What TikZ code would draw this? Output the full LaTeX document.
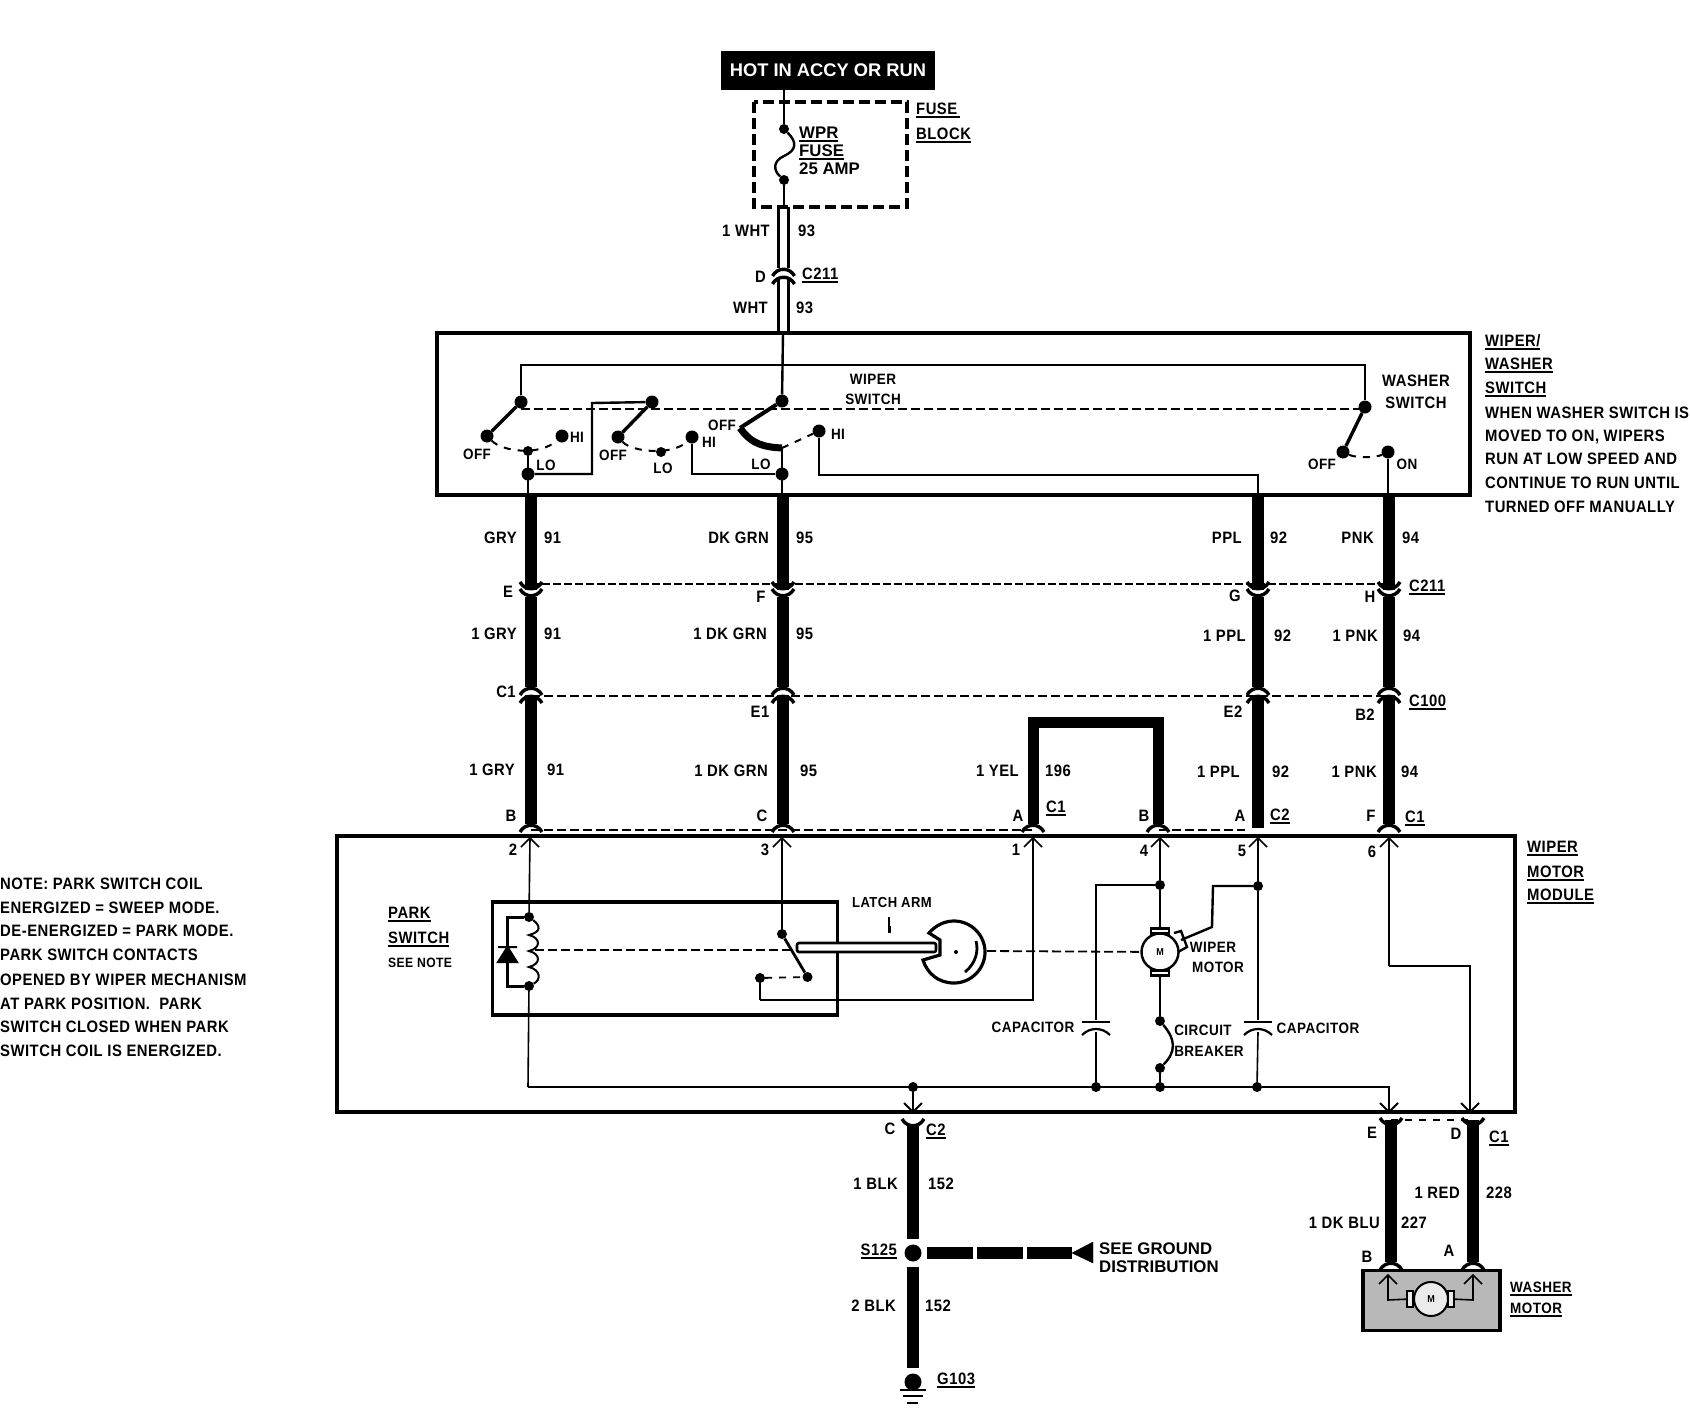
\documentclass[tikz,border=0pt]{standalone}
\usepackage{fontspec}
\setmainfont{Liberation Sans}[FakeStretch=0.9,LetterSpace=3]
\newfontfamily\plainface{Liberation Sans}
\usetikzlibrary{positioning}
\newcommand{\ulab}[1]{\setbox0=\hbox{#1}\rlap{\smash{\rule[-4pt]{\wd0}{1.7pt}}}\box0}
\tikzset{
    lab/.style={inner sep=0pt,font=\fontsize{16.5}{18}\selectfont\bfseries,text height=12pt,text depth=0pt},
    small/.style={lab,font=\fontsize{15}{18}\selectfont\bfseries},
    plainlab/.style={lab,font=\plainface\fontsize{16.8}{18}\selectfont\bfseries},
    dot/.style={circle,fill=black,inner sep=0pt,minimum size=13pt},
    tinydot/.style={circle,fill=black,inner sep=0pt,minimum size=10pt},
    heavy/.style={line width=12.5pt},
    thin wire/.style={line width=1.6pt},
    med wire/.style={line width=2.4pt},
    mech/.style={dash pattern=on 9pt off 4pt,line width=1.8pt},
    contact/.style={dash pattern=on 7pt off 7pt,line width=2pt},
    forkup/.pic={\draw[line width=3.4pt] (-11,8) .. controls (-6,-1) and (6,-1) .. (11,8);},
    forkdown/.pic={\draw[line width=3.4pt] (-11,-8) .. controls (-6,1) and (6,1) .. (11,-8);},
    pinup/.pic={\draw[line width=1.6pt] (-9,9) -- (0,0) -- (9,9);},
    pindown/.pic={\draw[line width=2pt] (-9,-9) -- (0,0) -- (9,-9);},
}
\begin{document}
\begin{tikzpicture}[x=1pt,y=-1pt]
  \useasboundingbox (0,0) rectangle (1690,1408);
  % supply and fuse block
  \node[fill=black,text=white,minimum width=214pt,minimum height=39pt,inner sep=0pt,font=\plainface\fontsize{18.3}{20}\selectfont\bfseries] (hot) at (828,70.5) {HOT IN ACCY OR RUN};
  \coordinate (hotout) at (784,90);
  \coordinate (fbA) at (754,102);
  \coordinate (fbB) at (907,207);
  \draw[line width=3.2pt,dash pattern=on 11pt off 5pt] (fbA) rectangle (fbB);
  \node[tinydot] (fuse1) at (784,129) {};
  \node[tinydot] (fuse2) at (784,180) {};
  \coordinate (fbout) at (784,207);
  \draw[thin wire] (hotout) -- (fuse1);
  \draw[med wire] (fuse1) .. controls (797,142) and (797,150) .. (784,156) .. controls (773,161) and (773,170) .. (fuse2);
  \draw[thin wire] (fuse2) -- (fbout);
  \node[plainlab,anchor=west] (wpr) at (799,132) {\ulab{WPR}};
  \node[plainlab,anchor=west] (wprf) at (799,150) {\ulab{FUSE}};
  \node[plainlab,anchor=west] (amp) at (799,168) {25 AMP};
  \node[lab,anchor=west] (fusel) at (916,108) {\ulab{FUSE\,}};
  \node[lab,anchor=west] (blockl) at (916,133) {\ulab{BLOCK}};
  % pair from fuse block to wiper switch
  \coordinate (pa0) at (778.5,207);
  \coordinate (pa1) at (778.5,268);
  \coordinate (pa2) at (778.5,278);
  \coordinate (pa3) at (778.5,333);
  \coordinate (pb0) at (788.5,207);
  \coordinate (pb1) at (788.5,268);
  \coordinate (pb2) at (788.5,278);
  \coordinate (pb3) at (788.5,333);
  \draw[line width=3.2pt] (pa0) -- (pa1) (pb0) -- (pb1) (pa2) -- (pa3) (pb2) -- (pb3);
  \pic at (783.5,268) {forkup};
  \pic at (783.5,276) {forkup};
  \node[lab,anchor=east] (n1wht) at (770,230) {1 WHT};
  \node[lab,anchor=west] (n93a) at (798,230) {93};
  \node[lab,anchor=east] (nd) at (766,276) {D};
  \node[lab,anchor=west] (c211a) at (802,273) {\ulab{C211}};
  \node[lab,anchor=east] (nwht) at (768,307) {WHT};
  \node[lab,anchor=west] (n93b) at (796,307) {93};
  % wiper/washer switch
  \node[draw,line width=3.2pt,inner sep=0pt,minimum width=1033pt,minimum height=162pt] (swbox) at (953.5,414) {};
  \node[dot] (swA) at (521,402) {};
  \node[dot] (swB) at (652,402) {};
  \node[dot] (swC) at (782,401) {};
  \node[dot] (swD) at (1365,407) {};
  \node[dot] (offA) at (487,436) {};
  \node[tinydot] (loA) at (528,451) {};
  \node[dot] (hiA) at (562,436) {};
  \node[dot] (offB) at (618,437) {};
  \node[tinydot] (loB) at (661,452) {};
  \node[dot] (hiB) at (692,437) {};
  \coordinate (offC) at (740,428);
  \coordinate (loC) at (782,448);
  \node[dot] (hiC) at (819,431) {};
  \node[dot] (offD) at (1343,452) {};
  \node[dot] (onD) at (1388,452) {};
  \node[dot] (jA) at (528,474) {};
  \node[dot] (jC) at (782,474) {};
  \coordinate (swtopA) at (521,365);
  \coordinate (swtopC) at (783,365);
  \coordinate (swtopD) at (1365,365);
  \coordinate (swinC) at (783,333);
  \coordinate (mechA) at (521,409);
  \coordinate (mechD) at (1365,409);
  \coordinate (rA) at (592,474);
  \coordinate (rB) at (592,403);
  \coordinate (rC) at (692,474);
  \coordinate (rD) at (819,475);
  \coordinate (rE) at (1258,475);
  \coordinate (rF) at (1258,495);
  \coordinate (jAout) at (528,495);
  \coordinate (jCout) at (782,495);
  \coordinate (onout) at (1388,495);
  \draw[mech,line width=2.4pt] (mechA) -- (mechD);
  \draw[med wire] (swA) -- (swtopA) -- (swtopD) -- (swD);
  \draw[med wire] (swinC) -- (swC);
  \draw[line width=3.4pt] (swA) -- (offA);
  \draw[line width=3.4pt] (swB) -- (offB);
  \draw[line width=4pt] (swC) -- (offC);
  \draw[line width=3.4pt] (swD) -- (offD);
  \draw[line width=7pt] (offC) .. controls (752,445) and (765,447) .. (loC);
  \draw[contact] (offA) .. controls (503,452) and (540,456) .. (hiA);
  \draw[contact] (offB) .. controls (632,452) and (672,456) .. (hiB);
  \draw[contact] (loC) -- (hiC);
  \draw[contact] (offD) .. controls (1356,458) and (1375,458) .. (onD);
  \draw[line width=2.2pt] (loA) -- (jAout);
  \draw[line width=2.2pt] (loC) -- (jCout);
  \draw[med wire] (onD) -- (onout);
  \draw[med wire] (jA) -- (rA) -- (rB) -- (swB);
  \draw[med wire] (hiB) -- (rC) -- (jC);
  \draw[med wire] (hiC) -- (rD) -- (rE) -- (rF);
  \node[small,anchor=center] (loff) at (477,453) {OFF};
  \node[small] (lhi) at (577,436) {HI};
  \node[small] (llo) at (546,464) {LO};
  \node[small] (loffb) at (613,454) {OFF};
  \node[small] (llob) at (663,467) {LO};
  \node[small] (lhib) at (709,441) {HI};
  \node[small] (loffc) at (722,424) {OFF};
  \node[small] (lloc) at (761,463) {LO};
  \node[small] (lhic) at (838,433) {HI};
  \node[small] (lwipsw) at (873,378) {WIPER};
  \node[small] (lwipswb) at (873,398) {SWITCH};
  \node[lab] (lwash) at (1416,380) {WASHER};
  \node[lab] (lwashb) at (1416,402) {SWITCH};
  \node[small] (loffd) at (1322,463) {OFF};
  \node[small] (lond) at (1407,463) {ON};
  \node[lab,anchor=west] (wwa) at (1485,340) {\ulab{WIPER/}};
  \node[lab,anchor=west] (wwb) at (1485,363) {\ulab{WASHER}};
  \node[lab,anchor=west] (wwc) at (1485,387) {\ulab{SWITCH}};
  \node[lab,anchor=west] (wwd) at (1485,412) {WHEN WASHER SWITCH IS};
  \node[lab,anchor=west] (wwe) at (1485,435) {MOVED TO ON, WIPERS};
  \node[lab,anchor=west] (wwf) at (1485,458) {RUN AT LOW SPEED AND};
  \node[lab,anchor=west] (wwg) at (1485,482) {CONTINUE TO RUN UNTIL};
  \node[lab,anchor=west] (wwh) at (1485,506) {TURNED OFF MANUALLY};
  % harness down to the module
  \coordinate (gry0) at (531,495);
  \coordinate (gry1) at (531,590);
  \coordinate (gry2) at (531,597);
  \coordinate (gry3) at (531,687);
  \coordinate (gry4) at (531,695);
  \coordinate (gry5) at (531,824);
  \coordinate (grn0) at (783,495);
  \coordinate (grn1) at (783,590);
  \coordinate (grn2) at (783,597);
  \coordinate (grn3) at (783,687);
  \coordinate (grn4) at (783,695);
  \coordinate (grn5) at (783,824);
  \coordinate (ppl0) at (1258,495);
  \coordinate (ppl1) at (1258,590);
  \coordinate (ppl2) at (1258,597);
  \coordinate (ppl3) at (1258,687);
  \coordinate (ppl4) at (1258,695);
  \coordinate (ppl5) at (1258,828);
  \coordinate (pnk0) at (1389,495);
  \coordinate (pnk1) at (1389,590);
  \coordinate (pnk2) at (1389,597);
  \coordinate (pnk3) at (1389,687);
  \coordinate (pnk4) at (1389,695);
  \coordinate (pnk5) at (1389,824);
  \coordinate (dashAa) at (531,584);
  \coordinate (dashAb) at (1389,584);
  \coordinate (dashBa) at (531,696);
  \coordinate (dashBb) at (1389,696);
  \coordinate (dashCa) at (531,830);
  \coordinate (dashCb) at (1032,830);
  \coordinate (dashCc) at (1159,830);
  \coordinate (dashCd) at (1245,830);
  \draw[line width=2.8pt,dash pattern=on 8pt off 3pt] (dashAa) -- (dashAb);
  \draw[line width=2.2pt,dash pattern=on 9pt off 4pt] (dashBa) -- (dashBb);
  \draw[line width=1.6pt,dash pattern=on 9pt off 4pt] (dashCa) -- (dashCb) (dashCc) -- (dashCd);
  \draw[heavy] (gry0) -- (gry1) (gry2) -- (gry3) (gry4) -- (gry5);
  \draw[heavy] (grn0) -- (grn1) (grn2) -- (grn3) (grn4) -- (grn5);
  \draw[heavy] (ppl0) -- (ppl1) (ppl2) -- (ppl3) (ppl4) -- (ppl5);
  \draw[heavy] (pnk0) -- (pnk1) (pnk2) -- (pnk3) (pnk4) -- (pnk5);
  \pic at (gry1) {forkdown};
  \pic at (gry2) {forkdown};
  \pic at (gry3) {forkup};
  \pic at (gry4) {forkup};
  \pic at (gry5) {forkup};
  \pic at (grn1) {forkdown};
  \pic at (grn2) {forkdown};
  \pic at (grn3) {forkup};
  \pic at (grn4) {forkup};
  \pic at (grn5) {forkup};
  \pic at (ppl1) {forkdown};
  \pic at (ppl2) {forkdown};
  \pic at (ppl3) {forkup};
  \pic at (ppl4) {forkup};
  \pic at (pnk1) {forkdown};
  \pic at (pnk2) {forkdown};
  \pic at (pnk3) {forkup};
  \pic at (pnk4) {forkup};
  \pic at (pnk5) {forkup};
  % jumper between pins 1 and 4
  \coordinate (brA) at (1033,824);
  \coordinate (brB) at (1033,722);
  \coordinate (brC) at (1158,722);
  \coordinate (brD) at (1158,824);
  \draw[heavy,line width=11pt] (brA) -- (brB) -- (brC) -- (brD);
  \pic at (brA) {forkup};
  \pic at (brD) {forkup};
  \node[lab,anchor=east] (t1) at (517,537) {GRY};
  \node[lab,anchor=west] (t2) at (544,537) {91};
  \node[lab,anchor=east] (t3) at (769,537) {DK GRN};
  \node[lab,anchor=west] (t4) at (796,537) {95};
  \node[lab,anchor=east] (t5) at (1242,537) {PPL};
  \node[lab,anchor=west] (t6) at (1270,537) {92};
  \node[lab,anchor=east] (t7) at (1374,537) {PNK};
  \node[lab,anchor=west] (t8) at (1402,537) {94};
  \node[lab] (cE) at (508,591) {E};
  \node[lab] (cF) at (761,596) {F};
  \node[lab] (cG) at (1235,595) {G};
  \node[lab] (cH) at (1370,596) {H};
  \node[lab,anchor=west] (c211b) at (1409,585) {\ulab{C211}};
  \node[lab,anchor=east] (t9) at (517,633) {1 GRY};
  \node[lab,anchor=west] (t10) at (544,633) {91};
  \node[lab,anchor=east] (t11) at (767,633) {1 DK GRN};
  \node[lab,anchor=west] (t12) at (796,633) {95};
  \node[lab,anchor=east] (t13) at (1246,635) {1 PPL};
  \node[lab,anchor=west] (t14) at (1274,635) {92};
  \node[lab,anchor=east] (t15) at (1378,635) {1 PNK};
  \node[lab,anchor=west] (t16) at (1403,635) {94};
  \node[lab] (cC1) at (506,691) {C1};
  \node[lab] (cE1) at (760,711) {E1};
  \node[lab] (cE2) at (1233,711) {E2};
  \node[lab] (cB2) at (1365,714) {B2};
  \node[lab,anchor=west] (c100) at (1409,700) {\ulab{C100}};
  \node[lab,anchor=east] (t17) at (515,769) {1 GRY};
  \node[lab,anchor=west] (t18) at (547,769) {91};
  \node[lab,anchor=east] (t19) at (768,770) {1 DK GRN};
  \node[lab,anchor=west] (t20) at (800,770) {95};
  \node[lab,anchor=east] (t21) at (1019,770) {1 YEL};
  \node[lab,anchor=west] (t22) at (1045,770) {196};
  \node[lab,anchor=east] (t23) at (1240,771) {1 PPL};
  \node[lab,anchor=west] (t24) at (1272,771) {92};
  \node[lab,anchor=east] (t25) at (1377,771) {1 PNK};
  \node[lab,anchor=west] (t26) at (1401,771) {94};
  \node[lab] (pB) at (511,815) {B};
  \node[lab] (pC) at (762,815) {C};
  \node[lab] (pA) at (1018,815) {A};
  \node[lab] (pBb) at (1144,815) {B};
  \node[lab] (pAb) at (1240,815) {A};
  \node[lab] (pF) at (1371,815) {F};
  \node[lab,anchor=west] (cl1) at (1046,806) {\ulab{C1}};
  \node[lab,anchor=west] (cl2) at (1270,814) {\ulab{C2}};
  \node[lab,anchor=west] (cl3) at (1405,816) {\ulab{C1}};
  % wiper motor module
  \node[draw,line width=3.2pt,inner sep=0pt,minimum width=1178pt,minimum height=276pt] (module) at (926,974) {};
  \node[draw,line width=3.2pt,inner sep=0pt,minimum width=345pt,minimum height=113pt] (parkbox) at (665,958.5) {};
  \coordinate (pin2) at (530,838);
  \coordinate (pin3) at (782,838);
  \coordinate (pin1) at (1033,838);
  \coordinate (pin4) at (1160,838);
  \coordinate (pin5) at (1258,838);
  \coordinate (pin6) at (1389,838);
  \pic at (pin2) {pinup};
  \pic at (pin3) {pinup};
  \pic at (pin1) {pinup};
  \pic at (pin4) {pinup};
  \pic at (pin5) {pinup};
  \pic at (pin6) {pinup};
  \node[tinydot] (coilA) at (529,917) {};
  \node[tinydot] (coilB) at (529,986) {};
  \coordinate (brackA) at (507.5,917);
  \coordinate (brackB) at (507.5,986);
  \coordinate (gndL) at (528,1087);
  \node[tinydot] (arm) at (782,934) {};
  \node[tinydot] (swon) at (807.5,977) {};
  \node[tinydot] (swoff) at (760,978) {};
  \coordinate (swbL) at (760,1000);
  \coordinate (swbR) at (1033,1000);
  \draw[thin wire] (pin2) -- (coilA);
  \draw[thin wire] (coilB) -- (gndL);
  \draw[line width=3pt] (coilA) -- (brackA) -- (brackB) -- (coilB);
  \draw[line width=2pt] (coilA) .. controls (541,926) and (541,932) .. (529,935) .. controls (541,938) and (541,948) .. (529,951) .. controls (541,954) and (541,964) .. (529,967) .. controls (541,970) and (541,980) .. (coilB);
  \draw[fill=black,line width=2pt] (498,947) -- (517,947) (507.5,947) -- (498,962) -- (517,962) -- cycle;
  \draw[mech] (535,950) -- (792,950);
  \draw[thin wire] (pin3) -- (arm);
  \draw[line width=2.8pt] (arm) -- (swon);
  \draw[contact,line width=1.8pt] (swoff) -- (swon);
  \draw[thin wire] (swoff) -- (swbL);
  \draw[med wire] (swbL) -- (swbR) -- (pin1);
  \node[draw,fill=white,line width=2.6pt,rounded corners=2pt,inner sep=0pt,minimum width=139pt,minimum height=9pt] (latch) at (866.5,947.5) {};
  \draw[line width=3.2pt] (929,933) .. controls (936,925) and (945,921) .. (954,921) .. controls (971,921) and (985,935) .. (985,952) .. controls (985,969) and (971,983) .. (954,983) .. controls (938,983) and (927,973) .. (923,960) -- (940,955) -- (940,940) -- cycle;
  \node[circle,fill=black,inner sep=0pt,minimum size=4pt] (camc) at (956,952) {};
  \draw[line width=2.8pt] (976,941) .. controls (979,952) and (975,964) .. (965,972);
  \node[small,font=\fontsize{14.5}{18}\selectfont\bfseries] (llatch) at (892,901) {LATCH ARM};
  \coordinate (latchA) at (889,917);
  \coordinate (latchB) at (889,933);
  \draw[line width=1.3pt] (latchA) -- (latchB);
  \draw[line width=3pt] (889,926) -- (latchB);
  \node[lab,anchor=west] (park) at (388,912) {\ulab{PARK}};
  \node[lab,anchor=west] (parkb) at (388,937) {\ulab{SWITCH}};
  \node[small,anchor=west,font=\fontsize{13.5}{18}\selectfont\bfseries] (seenote) at (388,961) {SEE NOTE};
  % motor and breaker side
  \node[tinydot] (j4) at (1160,885) {};
  \node[tinydot] (j5) at (1258,886) {};
  \node[circle,draw,fill=white,line width=2.4pt,inner sep=0pt,minimum size=37pt,font=\fontsize{10}{12}\selectfont\bfseries] (motor) at (1160,952) {M};
  \node[draw,fill=white,line width=2.2pt,inner sep=0pt,minimum width=18pt,minimum height=5pt] (brushT) at (1160,931) {};
  \node[draw,fill=white,line width=2.2pt,inner sep=0pt,minimum width=18pt,minimum height=5pt] (brushB) at (1160,973) {};
  \coordinate (brushS) at (1181,940);
  \draw[line width=2.4pt] (1174,933) -- (1181,931) -- (1187,947) -- (1178,952);
  \coordinate (capLa) at (1096,885);
  \coordinate (capLb) at (1096,1020);
  \coordinate (capLc) at (1096,1032);
  \coordinate (capRb) at (1258,1020);
  \coordinate (capRc) at (1258,1032);
  \coordinate (m5a) at (1213,886);
  \coordinate (m5b) at (1212,927);
  \node[tinydot] (gndA) at (1096,1087) {};
  \node[tinydot] (gndB) at (1160,1087) {};
  \node[tinydot] (gndC) at (1257,1087) {};
  \node[tinydot] (gndD) at (913,1087) {};
  \node[tinydot] (cbA) at (1160,1021) {};
  \node[tinydot] (cbB) at (1160,1068) {};
  \coordinate (gndR) at (1389,1087);
  \coordinate (pinG) at (913,1112);
  \coordinate (pinE) at (1389,1112);
  \coordinate (pinD) at (1470,1112);
  \coordinate (p6a) at (1389,966);
  \coordinate (p6b) at (1470,966);
  \draw[mech] (987,951) -- (motor);
  \draw[med wire] (pin4) -- (j4);
  \draw[thin wire] (j4) -- (brushT);
  \draw[thin wire] (j4) -- (capLa) -- (capLb);
  \draw[thin wire] (brushB) -- (cbA);
  \draw[line width=2.4pt] (cbA) .. controls (1176,1040) and (1176,1052) .. (cbB);
  \draw[thin wire] (cbB) -- (gndB);
  \draw[med wire] (pin5) -- (j5) -- (capRb);
  \draw[med wire] (j5) -- (m5a) -- (m5b) -- (brushS);
  \draw[line width=2.2pt] (1082,1022) -- (1110,1022);
  \draw[line width=2.2pt] (1082,1035) .. controls (1090,1027) and (1102,1027) .. (1110,1035);
  \draw[line width=2.2pt] (1244,1022) -- (1272,1022);
  \draw[line width=2.2pt] (1244,1035) .. controls (1252,1027) and (1264,1027) .. (1272,1035);
  \draw[thin wire] (capLc) -- (gndA);
  \draw[thin wire] (capRc) -- (gndC);
  \draw[med wire] (gndL) -- (gndR) -- (pinE);
  \draw[med wire] (gndD) -- (pinG);
  \draw[med wire] (pin6) -- (p6a);
  \draw[thin wire,line width=2.2pt] (p6a) -- (p6b) -- (pinD);
  \pic at (pinG) {pindown};
  \pic at (pinE) {pindown};
  \pic at (pinD) {pindown};
  \node[small] (lwm) at (1213,946) {WIPER};
  \node[small] (lwmb) at (1218,966) {MOTOR};
  \node[small] (lcb) at (1203,1029) {CIRCUIT};
  \node[small] (lcbb) at (1209,1050) {BREAKER};
  \node[small] (lcapr) at (1318,1027) {CAPACITOR};
  \node[small] (lcapl) at (1033,1026) {CAPACITOR};
  \node[lab] (pn2) at (513,849) {2};
  \node[lab] (pn3) at (765,849) {3};
  \node[lab] (pn1) at (1016,849) {1};
  \node[lab] (pn4) at (1144,850) {4};
  \node[lab] (pn5) at (1242,850) {5};
  \node[lab] (pn6) at (1372,851) {6};
  \node[lab,anchor=west] (mma) at (1527,846) {\ulab{WIPER}};
  \node[lab,anchor=west] (mmb) at (1527,871) {\ulab{MOTOR}};
  \node[lab,anchor=west] (mmc) at (1527,894) {\ulab{MODULE}};
  % note
  \node[lab,anchor=west] (note1) at (0,883) {NOTE: PARK SWITCH COIL};
  \node[lab,anchor=west] (note2) at (0,907) {ENERGIZED = SWEEP MODE.};
  \node[lab,anchor=west] (note3) at (0,930) {DE-ENERGIZED = PARK MODE.};
  \node[lab,anchor=west] (note4) at (0,954) {PARK SWITCH CONTACTS};
  \node[lab,anchor=west] (note5) at (0,979) {OPENED BY WIPER MECHANISM};
  \node[lab,anchor=west] (note6) at (0,1003) {AT PARK POSITION.\ \ PARK};
  \node[lab,anchor=west] (note7) at (0,1026) {SWITCH CLOSED WHEN PARK};
  \node[lab,anchor=west] (note8) at (0,1050) {SWITCH COIL IS ENERGIZED.};
  % ground side
  \coordinate (blkA) at (913,1125);
  \coordinate (blkB) at (913,1239);
  \coordinate (blkC) at (913,1267);
  \coordinate (blkD) at (913,1368);
  \node[circle,fill=black,inner sep=0pt,minimum size=17pt] (s125) at (913,1253) {};
  \node[circle,fill=black,inner sep=0pt,minimum size=17pt] (g103) at (913,1382) {};
  \coordinate (gwireA) at (927,1253);
  \coordinate (gtipA) at (1072,1253);
  \draw[heavy] (blkA) -- (blkB);
  \draw[heavy] (blkC) -- (blkD);
  \draw[heavy,dash pattern=on 46pt off 4pt] (gwireA) -- (gtipA);
  \draw[fill=black] (gtipA) -- (1093,1242) -- (1093,1263) -- cycle;
  \pic at (913,1127) {forkdown};
  \coordinate (gnda) at (900,1390);
  \coordinate (gndb) at (926,1390);
  \draw[line width=2pt] (gnda) -- (gndb);
  \draw[line width=2pt] (903,1396) -- (923,1396);
  \draw[line width=2pt] (907,1403) -- (918,1403);
  \node[lab] (bC) at (890,1128) {C};
  \node[lab,anchor=west] (bC2) at (926,1129) {\ulab{C2}};
  \node[lab,anchor=east] (b1) at (898,1183) {1 BLK};
  \node[lab,anchor=west] (b2) at (928,1183) {152};
  \node[lab,anchor=east] (ls125) at (897,1249) {\ulab{S125}};
  \node[plainlab,anchor=west] (lsee) at (1099,1248) {SEE GROUND};
  \node[plainlab,anchor=west] (ldist) at (1099,1266) {DISTRIBUTION};
  \node[lab,anchor=east] (b3) at (896,1305) {2 BLK};
  \node[lab,anchor=west] (b4) at (925,1305) {152};
  \node[lab,anchor=west] (lg103) at (937,1378) {\ulab{G103}};
  % washer motor
  \coordinate (wasE) at (1391,1120);
  \coordinate (wasD) at (1473,1120);
  \coordinate (wasB) at (1391,1262);
  \coordinate (wasA) at (1473,1262);
  \draw[contact,line width=1.8pt] (wasE) -- (wasD);
  \draw[line width=11.5pt] (wasE) -- (wasB);
  \draw[line width=11.5pt] (wasD) -- (wasA);
  \pic at (1391,1126) {forkdown};
  \pic at (1473,1126) {forkdown};
  \pic at (wasB) {forkup};
  \pic at (wasA) {forkup};
  \node[draw,fill=black!28,line width=3.4pt,inner sep=0pt,minimum width=137pt,minimum height=60pt] (wbox) at (1431.5,1300.5) {};
  \coordinate (wpinB) at (1388,1275);
  \coordinate (wpinA) at (1473,1275);
  \node[circle,draw,fill=black!8,line width=2pt,inner sep=0pt,minimum size=34pt,font=\fontsize{10}{12}\selectfont\bfseries] (wmotor) at (1431,1299) {M};
  \node[draw,fill=black!8,line width=2.4pt,inner sep=0pt,minimum width=6pt,minimum height=16pt] (wbrA) at (1410,1299) {};
  \node[draw,fill=black!8,line width=2.4pt,inner sep=0pt,minimum width=6pt,minimum height=16pt] (wbrB) at (1451,1299) {};
  \coordinate (wlA) at (1388,1300);
  \coordinate (wlB) at (1473,1300);
  \draw[thin wire] (wpinB) -- (wlA) -- (wbrA);
  \draw[thin wire] (wpinA) -- (wlB) -- (wbrB);
  \pic at (wpinB) {pinup};
  \pic at (wpinA) {pinup};
  \node[lab] (wE) at (1372,1132) {E};
  \node[lab] (wD) at (1456,1133) {D};
  \node[lab,anchor=west] (wC1) at (1489,1136) {\ulab{C1}};
  \node[lab,anchor=east] (w1) at (1460,1192) {1 RED};
  \node[lab,anchor=west] (w2) at (1486,1192) {228};
  \node[lab,anchor=east] (w3) at (1380,1222) {1 DK BLU};
  \node[lab,anchor=west] (w4) at (1401,1222) {227};
  \node[lab] (wB) at (1367,1256) {B};
  \node[lab] (wA) at (1449,1250) {A};
  \node[small,anchor=west] (wm1) at (1510,1286) {\ulab{WASHER}};
  \node[small,anchor=west] (wm2) at (1510,1307) {\ulab{MOTOR}};
\end{tikzpicture}
\end{document}
